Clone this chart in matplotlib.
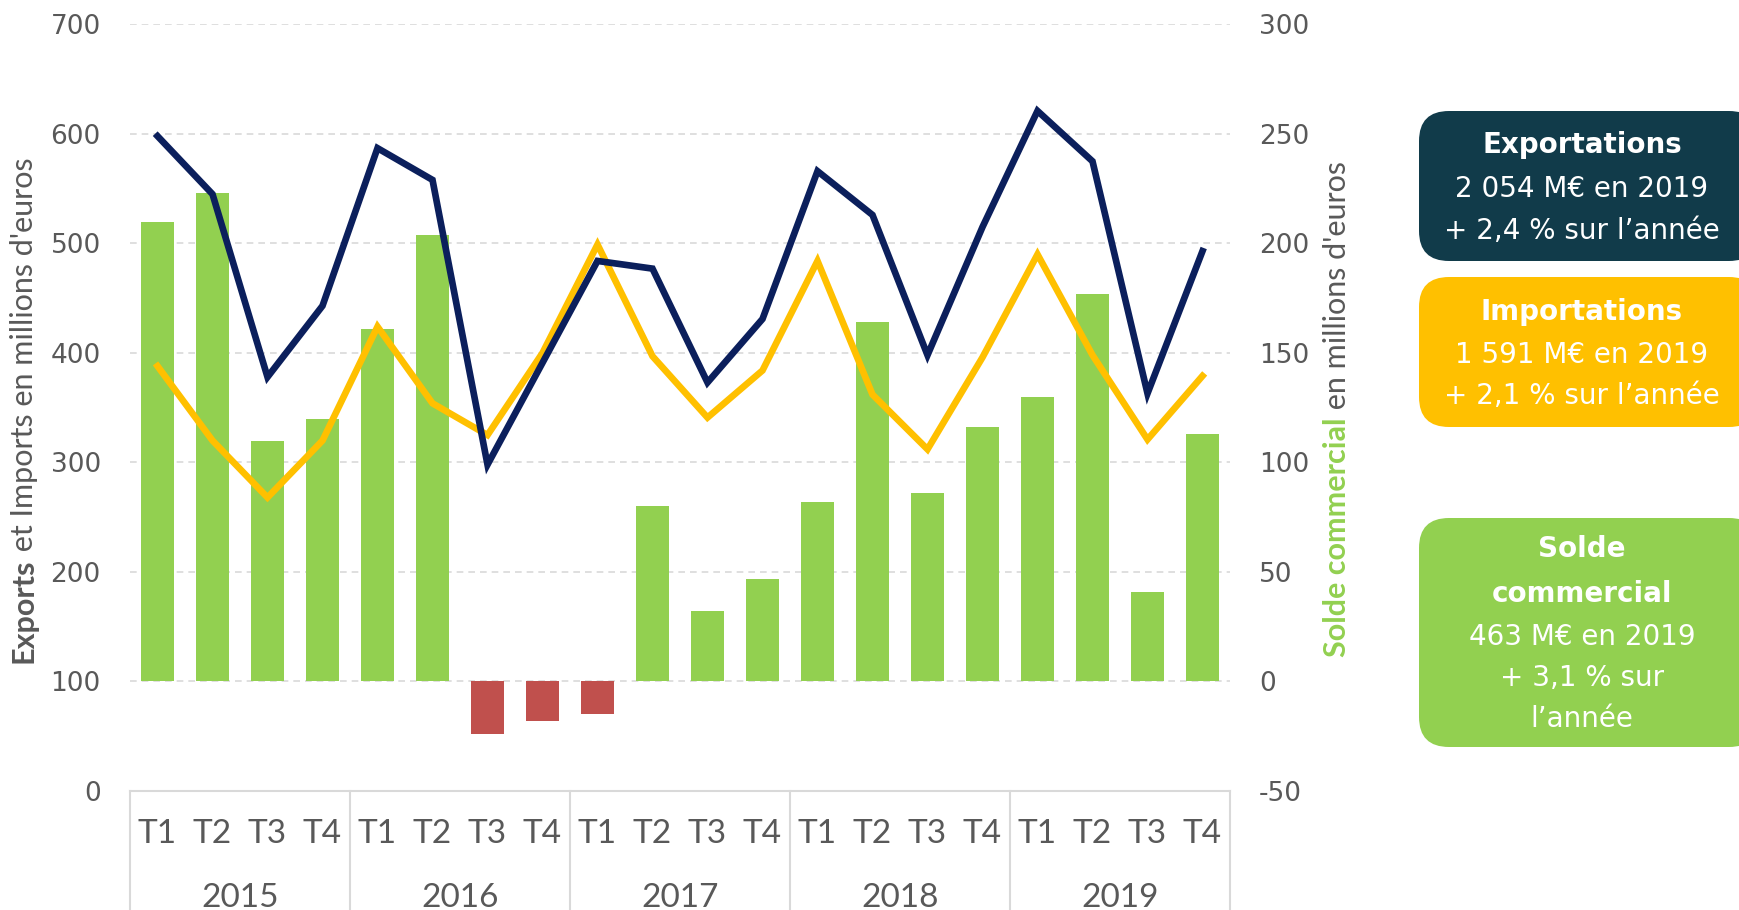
import matplotlib
matplotlib.use("Agg")
import matplotlib.pyplot as plt
from matplotlib.patches import FancyBboxPatch
from matplotlib.transforms import IdentityTransform

plt.rcParams["axes.unicode_minus"] = False

# quarterly trade figures, millions of euros
years = ["2015", "2016", "2017", "2018", "2019"]
quarters = ["T1", "T2", "T3", "T4"]
exports = [598, 545, 378, 443, 587, 558, 298, 391, 484, 477,
           373, 431, 566, 526, 398, 515, 621, 575, 363, 493]
imports = [388, 320, 268, 320, 424, 354, 325, 400, 499, 397,
           341, 384, 484, 362, 312, 396, 490, 398, 321, 379]
solde = [210, 223, 110, 120, 161, 204, -24, -18, -15, 80,
         32, 47, 82, 164, 86, 116, 130, 177, 41, 113]

left_ticks = [0, 100, 200, 300, 400, 500, 600, 700]
right_ticks = [-50, 0, 50, 100, 150, 200, 250, 300]

box_exp = ["Exportations", "2 054 M€ en 2019", "+ 2,4 % sur l’année"]
box_imp = ["Importations", "1 591 M€ en 2019", "+ 2,1 % sur l’année"]
box_sol = ["Solde", "commercial", "463 M€ en 2019", "+ 3,1 % sur", "l’année"]

NAVY = "#0B1F5C"
YELLOW = "#FFC000"
GREEN = "#92D050"
RED = "#C0504D"
TEAL = "#113B4A"
GREY = "#595959"
LIGHT = "#D9D9D9"
NARROW = ["Lato", "DejaVu Sans"]

W, H = 1740, 910
fig = plt.figure(figsize=(W / 100, H / 100), dpi=100)
ax = fig.add_axes([130 / W, 119 / H, 1100 / W, 766.6 / H])
ax2 = ax.twinx()
ax.set_zorder(ax2.get_zorder() + 1)
ax.patch.set_visible(False)

x = list(range(len(exports)))
labels = quarters * len(years)

# bars on the right axis
for v in right_ticks[1:]:
    ax2.axhline(v, color=LIGHT, lw=1.2, ls=(0, (4, 3)), zorder=0)
ax2.bar(x, solde, width=0.6, color=[GREEN if v >= 0 else RED for v in solde], zorder=2)
ax2.set_ylim(-50, 300)
ax2.set_yticks(right_ticks)

# lines on the left axis
ax.plot(x, imports, color=YELLOW, lw=4.8, solid_joinstyle="miter", zorder=3)
ax.plot(x, exports, color=NAVY, lw=4.8, solid_joinstyle="miter", zorder=4)
ax.set_ylim(0, 700)
ax.set_yticks(left_ticks)
ax.set_xlim(-0.5, len(x) - 0.5)
ax.set_xticks(x)
ax.set_xticklabels(labels, family=NARROW, fontsize=24, color=GREY)

for a in (ax, ax2):
    for s in a.spines.values():
        s.set_visible(False)
ax.spines["bottom"].set_visible(True)
ax.spines["bottom"].set_color(LIGHT)
ax.spines["bottom"].set_linewidth(1.5)

ax.tick_params(axis="x", length=0, pad=20)
ax.tick_params(axis="y", length=0, pad=21, labelsize=19, labelcolor=GREY)
ax2.tick_params(axis="y", length=0, pad=21, labelsize=19, labelcolor=GREY)

# category table below the axis
xt = ax.get_xaxis_transform()
for i in range(len(years) + 1):
    b = i * 4 - 0.5
    ax.plot([b, b], [0, -0.17], transform=xt, clip_on=False, color=LIGHT, lw=1.5)
for i, yr in enumerate(years):
    ax.text(i * 4 + 1.5, -0.139, yr, transform=xt, ha="center", va="center",
            family=NARROW, fontsize=24, color=GREY)

# rotated axis titles made of several styled parts
renderer = fig.canvas.get_renderer()


def rot_label(parts, xb, yc, size=22):
    objs = []
    for s, c, w in parts:
        objs.append(fig.text(0, 0, s, color=c, fontweight=w, rotation=90,
                             rotation_mode="anchor", ha="left", va="baseline",
                             family=NARROW, fontsize=size))
    lens = [t.get_window_extent(renderer).height for t in objs]
    y = (H - yc) - sum(lens) / 2
    for t, L in zip(objs, lens):
        t.set_position((xb / W, y / H))
        y += L


rot_label([("Exports", GREY, "bold"), (" et Imports en millions d'euros", GREY, "normal")], 33, 410)
rot_label([("Solde commercial", GREEN, "bold"), (" en millions d'euros", GREY, "normal")], 1346, 409)


# coloured summary boxes on the right
def info_box(top, bottom, color, lines, ys, bold_n):
    p = FancyBboxPatch((1419, H - bottom), 340, bottom - top,
                       boxstyle="round,pad=0,rounding_size=30",
                       transform=IdentityTransform(), facecolor=color,
                       edgecolor="none")
    fig.add_artist(p)
    for k, (s, yy) in enumerate(zip(lines, ys)):
        fig.text(1582 / W, 1 - yy / H, s, ha="center", va="center", color="white",
                 fontsize=20, fontweight="bold" if k < bold_n else "normal",
                 family="DejaVu Sans")


info_box(111, 261, TEAL, box_exp, [145, 189, 231], 1)
info_box(277, 427, YELLOW, box_imp, [312, 355, 396], 1)
info_box(518, 747, GREEN, box_sol, [549, 594, 637, 678, 719], 2)

fig.savefig("out.png", dpi=100)
